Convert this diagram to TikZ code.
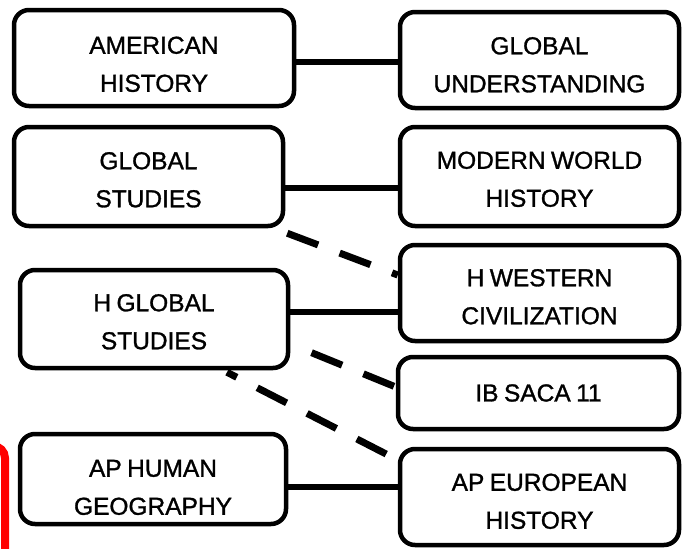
\documentclass[tikz,border=0pt]{standalone}
\usepackage{fontspec}
\setmainfont{Liberation Sans}
\newfontfamily\boxfont[FakeBold=1.2,WordSpace=0.8]{Liberation Sans}
\begin{document}
\begin{tikzpicture}[x=1pt,y=-1pt,
  box/.style={draw, line width=4.5pt, rounded corners=15pt, align=center,
    font=\boxfont\fontsize{24.5}{38}\selectfont, inner sep=0pt},
  conn/.style={line width=6.5pt},
  dconn/.style={line width=7pt, dash pattern=on 33pt off 23pt}]
\useasboundingbox (0,0) rectangle (683,549);
\clip (0,0) rectangle (683,549);
% red partial frame at the left edge
\draw[red, line width=8pt, rounded corners=12pt] (-40,446) -- (5,446) -- (5,600);
% boxes
\node[box, minimum width=280pt, minimum height=96pt, text height=67.5pt, text depth=0pt] (A) at (154,58) {AMERICAN\\HISTORY};
\node[box, minimum width=279pt, minimum height=96pt, text height=64.5pt, text depth=0pt] (B) at (539.5,60) {GLOBAL\\UNDERSTANDING};
\node[box, minimum width=269pt, minimum height=99pt, text height=61.5pt, text depth=0pt] (C) at (148.5,176.5) {GLOBAL\\STUDIES};
\node[box, minimum width=279pt, minimum height=99pt, text height=60.5pt, text depth=0pt] (D) at (539.5,176.5) {MODERN WORLD\\HISTORY};
\node[box, minimum width=268pt, minimum height=98pt, text height=60.5pt, text depth=0pt] (E) at (154,319) {H GLOBAL\\STUDIES};
\node[box, minimum width=279pt, minimum height=96pt, text height=62.5pt, text depth=0pt] (F) at (539.5,293) {H WESTERN\\CIVILIZATION};
\node[box, minimum width=281pt, minimum height=72pt] (G) at (538.5,393) {IB SACA 11};
\node[box, minimum width=266pt, minimum height=90pt, text height=71.5pt, text depth=0pt] (H) at (153,479) {AP HUMAN\\GEOGRAPHY};
\node[box, minimum width=279pt, minimum height=96pt, text height=63.5pt, text depth=0pt] (I) at (539.5,497) {AP EUROPEAN\\HISTORY};
% solid connectors
\draw[conn] ([yshift=-4pt]A.east) -- ([yshift=-4pt]A.east -| B.west);
\draw[conn] ([yshift=-11.5pt]C.east) -- ([yshift=-11.5pt]C.east -| D.west);
\draw[conn] ([yshift=7pt]E.east) -- ([yshift=7pt]E.east -| F.west);
\draw[conn] ([yshift=-8pt]H.east) -- ([yshift=-8pt]H.east -| I.west);
% dashed connectors
\draw[dconn] ([xshift=2pt,yshift=-5pt]C.south east) -- ([yshift=18pt]F.west);
\draw[dconn, dash phase=33pt] ([yshift=-25pt]E.east) -- ([yshift=6pt]G.west);
\draw[dconn, dash phase=22pt] ([xshift=73pt,yshift=-2pt]E.south) -- ([yshift=37pt]I.west);
\end{tikzpicture}
\end{document}
